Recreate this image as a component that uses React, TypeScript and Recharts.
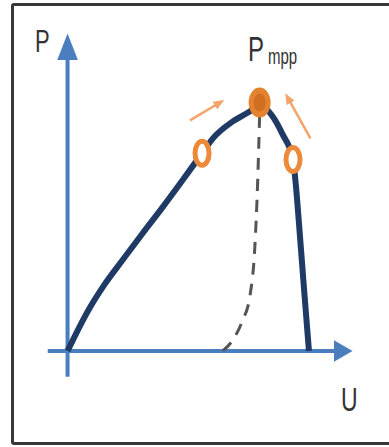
import React from "react";
import { ComposedChart, Line, XAxis, YAxis, ReferenceLine, ReferenceDot } from "recharts";

// P-U curve of a PV module (U normalised to Uoc, P to Pmpp)
const curveU = [0, 0.086, 0.156, 0.226, 0.309, 0.391, 0.473, 0.556, 0.601, 0.683, 0.753, 0.794, 0.848, 0.889, 0.932, 0.944, 0.959, 0.975, 0.988, 0.998];
const curveP = [0, 0.164, 0.272, 0.364, 0.472, 0.576, 0.684, 0.796, 0.856, 0.924, 0.964, 0.99, 0.944, 0.872, 0.771, 0.665, 0.484, 0.282, 0.121, 0];

// dashed locus below the MPP
const dashU = [0.642, 0.683, 0.724, 0.753, 0.774, 0.786, 0.794];
const dashP = [0, 0.044, 0.124, 0.216, 0.416, 0.684, 0.95];

// operating points: [u, p]
const leftPoint = [0.556, 0.796];
const mppPoint = [0.794, 1.0];
const rightPoint = [0.932, 0.771];

// tracking arrows: [[u1, p1], [u2, p2]]
const leftArrow = [[0.506, 0.928], [0.63, 1.0]];
const rightArrow = [[1.004, 0.856], [0.91, 1.02]];

const curve = curveU.map((u, i) => ({ u, p: curveP[i] }));
const dashed = dashU.map((u, i) => ({ u, p: dashP[i] }));

const AXIS = "#4a7ebf";
const CURVE = "#203a66";
const ORANGE = "#ec8a3a";
const ARROW = "#f2a46a";

const Ring = (props: any) => (
  <ellipse cx={props.cx} cy={props.cy} rx={7} ry={12} fill="#fff" stroke={ORANGE} strokeWidth={5} />
);

const Mpp = (props: any) => (
  <g>
    <ellipse cx={props.cx} cy={props.cy} rx={11} ry={15} fill="#e4832f" />
    <ellipse cx={props.cx} cy={props.cy} rx={6} ry={9} fill="#c8661c" opacity={0.7} />
  </g>
);

const label = (left: number, top: number, size: number): React.CSSProperties => ({
  position: "absolute",
  left,
  top,
  fontFamily: "'Liberation Sans', Arial, sans-serif",
  fontSize: size,
  lineHeight: 1,
  color: "#333",
  transform: "scale(1, 1.45)",
  transformOrigin: "top left",
  whiteSpace: "nowrap",
});

export default function App() {
  return (
    <div style={{ position: "absolute", left: 0, top: 0, width: 389, height: 447, overflow: "hidden", background: "#fff" }}>
      <svg width={0} height={0} style={{ position: "absolute" }}>
        <defs>
          <marker id="arrY" markerUnits="userSpaceOnUse" markerWidth={27} markerHeight={21} viewBox="0 0 27 21" refX={19} refY={10.5} orient="auto">
            <path d="M0,0 L27,10.5 L0,21 Z" fill={AXIS} />
          </marker>
          <marker id="arrX" markerUnits="userSpaceOnUse" markerWidth={19} markerHeight={22} viewBox="0 0 19 22" refX={11} refY={11} orient="auto">
            <path d="M0,0 L19,11 L0,22 Z" fill={AXIS} />
          </marker>
          <marker id="arrO" markerUnits="userSpaceOnUse" markerWidth={11} markerHeight={9} viewBox="0 0 11 9" refX={6} refY={4.5} orient="auto">
            <path d="M0,0 L11,4.5 L0,9 Z" fill={ARROW} />
          </marker>
        </defs>
      </svg>
      <div
        style={{
          position: "absolute",
          left: 11,
          top: 3,
          width: 440,
          height: 442,
          boxSizing: "border-box",
          border: "3px solid #383838",
          borderRadius: 3,
        }}
      />
      <div style={{ position: "absolute", left: 0, top: 0 }}>
        <ComposedChart width={389} height={447} margin={{ top: 33, right: 36, bottom: 70, left: 47 }}>
          <XAxis type="number" dataKey="u" domain={[-0.085, 1.18]} hide allowDataOverflow />
          <YAxis type="number" domain={[-0.105, 1.28]} hide allowDataOverflow />
          <ReferenceLine
            segment={[{ x: 0, y: -0.104 }, { x: 0, y: 1.246 }]}
            stroke={AXIS}
            strokeWidth={4}
            markerEnd="url(#arrY)"
          />
          <ReferenceLine
            segment={[{ x: -0.082, y: 0 }, { x: 1.145, y: 0 }]}
            stroke={AXIS}
            strokeWidth={4}
            markerEnd="url(#arrX)"
          />
          <Line
            data={dashed}
            dataKey="p"
            type="monotone"
            stroke="#555"
            strokeWidth={3}
            strokeDasharray="12 9"
            dot={false}
            isAnimationActive={false}
          />
          <Line
            data={curve}
            dataKey="p"
            type="monotone"
            stroke={CURVE}
            strokeWidth={6}
            dot={false}
            isAnimationActive={false}
          />
          <ReferenceLine
            segment={[{ x: leftArrow[0][0], y: leftArrow[0][1] }, { x: leftArrow[1][0], y: leftArrow[1][1] }]}
            stroke={ARROW}
            strokeWidth={2.5}
            markerEnd="url(#arrO)"
          />
          <ReferenceLine
            segment={[{ x: rightArrow[0][0], y: rightArrow[0][1] }, { x: rightArrow[1][0], y: rightArrow[1][1] }]}
            stroke={ARROW}
            strokeWidth={2.5}
            markerEnd="url(#arrO)"
          />
          <ReferenceDot x={leftPoint[0]} y={leftPoint[1]} r={9} shape={Ring} />
          <ReferenceDot x={rightPoint[0]} y={rightPoint[1]} r={9} shape={Ring} />
          <ReferenceDot x={mppPoint[0]} y={mppPoint[1]} r={11} shape={Mpp} />
        </ComposedChart>
      </div>
      <div style={label(35, 26, 22)}>P</div>
      <div style={label(248, 32, 24)}>P</div>
      <div style={label(268, 45, 15)}>mpp</div>
      <div style={label(341, 383, 23)}>U</div>
    </div>
  );
}
